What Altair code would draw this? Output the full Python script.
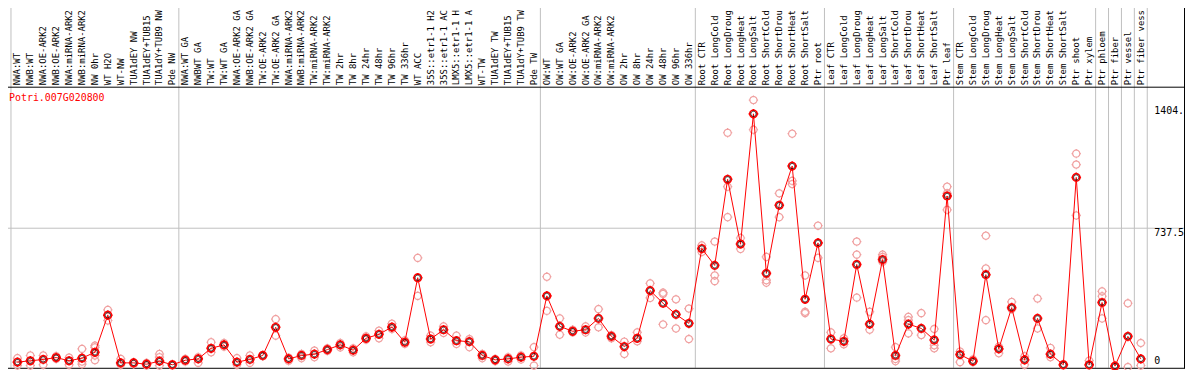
import math
import altair as alt
import pandas as pd

GENE = "Potri.007G020800"

LABELS = [
    "NWA:WT", "NWB:WT", "NWA:OE-ARK2", "NWB:OE-ARK2", "NWA:miRNA-ARK2", "NWB:miRNA-ARK2",
    "NW 0hr", "WT H2O", "WT-NW", "TUA1dEY NW", "TUA1dEY+TUB15", "TUA1dY+TUB9 NW", "Pde NW",
    "NWA:WT GA", "NWBWT GA", "TW:WT", "TW:WT GA", "NWA:OE-ARK2 GA", "NWB:OE-ARK2 GA",
    "TW:OE-ARK2", "TW:OE-ARK2 GA", "NWA:miRNA-ARK2", "NWB:miRNA-ARK2", "TW:miRNA-ARK2",
    "TW:miRNA-ARK2", "TW 2hr", "TW 8hr", "TW 24hr", "TW 48hr", "TW 96hr", "TW 336hr",
    "WT ACC", "35S::etr1-1 H2", "35S::etr1-1 AC", "LMX5::etr1-1 H", "LMX5::etr1-1 A",
    "WT-TW", "TUA1dEY TW", "TUA1dEY+TUB15", "TUA1dY+TUB9 TW", "Pde TW",
    "OW:WT", "OW:WT GA", "OW:OE-ARK2", "OW:OE-ARK2 GA", "OW:miRNA-ARK2", "OW:miRNA-ARK2",
    "OW 2hr", "OW 8hr", "OW 24hr", "OW 48hr", "OW 96hr", "OW 336hr",
    "Root CTR", "Root LongCold", "Root LongDroug", "Root LongHeat", "Root LongSalt",
    "Root ShortCold", "Root ShortDrou", "Root ShortHeat", "Root ShortSalt", "Ptr root",
    "Leaf CTR", "Leaf LongCold", "Leaf LongDroug", "Leaf LongHeat", "Leaf LongSalt",
    "Leaf ShortCold", "Leaf ShortDrou", "Leaf ShortHeat", "Leaf ShortSalt", "Ptr leaf",
    "Stem CTR", "Stem LongCold", "Stem LongDroug", "Stem LongHeat", "Stem LongSalt",
    "Stem ShortCold", "Stem ShortDrou", "Stem ShortHeat", "Stem ShortSalt", "Ptr shoot",
    "Ptr xylem", "Ptr phloem", "Ptr fiber", "Ptr vessel", "Ptr fiber vess",
]

MEANS = [
    30, 37, 44, 54, 37, 51, 82, 278, 26, 26, 19, 35, 16,
    40, 47, 103, 121, 30, 44, 65, 214, 47, 65, 72, 96, 121, 93, 156, 177, 215,
    135, 476, 152, 201, 143, 138, 65, 42, 47, 56, 61,
    380, 219, 193, 201, 261, 166, 112, 156, 408, 341, 282, 235,
    630, 541, 996, 654, 1342, 499, 859, 1066, 362, 660,
    152, 140, 546, 231, 572, 65, 231, 208, 147, 908,
    70, 35, 492, 100, 318, 42, 261, 72, 16, 1006,
    16, 345, 9, 166, 47,
]

REPS = [
    [51, 12], [65, 12], [65, 16], [61, 47], [54, 16], [100, 19, 33], [117, 65, 40, 108],
    [306, 250], [47, 16], [30, 19], [26, 12], [73, 56, 12], [19, 12],
    [47, 33], [56, 26], [135, 82], [131, 112], [51, 16], [65, 26], [68, 61], [257, 170],
    [54, 37], [73, 51], [91, 56], [103, 89], [131, 108], [103, 82], [166, 149], [196, 156],
    [233, 205], [145, 126], [581, 380], [170, 135], [219, 184], [170, 126], [152, 109],
    [73, 51], [47, 35], [56, 33], [65, 44], [109, 12],
    [481, 301], [261, 175], [201, 187], [219, 187], [310, 214], [173, 156], [138, 73],
    [187, 140], [446, 369], [397, 390, 229], [362, 208], [313, 152],
    [647, 612], [667, 488, 458], [1242, 957, 796], [686, 628], [1415, 1258],
    [586, 463, 450], [922, 796], [1237, 988, 971], [488, 296, 289], [751, 581],
    [187, 103], [156, 124], [667, 598, 371], [296, 201], [598, 586, 560], [109, 47, 35],
    [269, 252, 182], [289, 173], [205, 119, 103], [957, 922, 835],
    [86, 30], [44, 30], [698, 525, 252], [112, 77], [348, 310], [61, 16], [366, 208],
    [105, 56], [19, 12], [1132, 1074, 805],
    [38, 12], [404, 378, 261], [12, 2], [341, 4], [131, 12],
]

GROUP_STARTS = [0, 13, 41, 53, 63, 73, 84, 85, 86, 87, 88]
TICK_VALUES = [1404, 737.5, 0]
TICK_TEXT = ["1404.", "737.5", "0"]
GRID_VALUES = [737.5]

W, H = 1194, 370
MONO = "DejaVu Sans Mono"


def ring_path(r, stub):
    pts = [(r * math.cos(2 * math.pi * k / 24), r * math.sin(2 * math.pi * k / 24)) for k in range(24)]
    p = "M" + "L".join(f"{x:.3f},{y:.3f}" for x, y in pts) + "Z"
    if stub:
        p += (f"M0,{-r}L0,{-stub}M0,{r}L0,{stub}"
              f"M{-r},0L{-stub},0M{r},0L{stub},0")
    return p


SHAPE = ring_path(1, 1.3)
INNER = ring_path(0.7, 0)

df = pd.DataFrame({"i": list(range(len(LABELS))), "label": LABELS, "mean": MEANS})
reps_df = pd.DataFrame([{"i": i, "v": v} for i, r in enumerate(REPS) for v in r])
grid_df = pd.DataFrame({"start": GROUP_STARTS})
hgrid_df = pd.DataFrame({"v": GRID_VALUES})
ticks_df = pd.DataFrame({"v": TICK_VALUES, "t": TICK_TEXT})
title_df = pd.DataFrame({"t": [GENE]})

xs = alt.Scale(domain=[-17.5 / 13, (W - 17.5) / 13], nice=False, zero=False)
ys = alt.Scale(domain=[-5.249, 1936.9], nice=False, zero=False)
X = lambda f: alt.X(f, type="quantitative", scale=xs, axis=None)
Y = lambda f: alt.Y(f, type="quantitative", scale=ys, axis=None)

vgrid = alt.Chart(grid_df).transform_calculate(b="datum.start - 0.5").mark_rule(
    color="#c0c0c0", strokeWidth=1
).encode(x=X("b"), y=alt.value(0), y2=alt.value(369))

hgrid = alt.Chart(hgrid_df).mark_rule(color="#c0c0c0", strokeWidth=1).encode(
    y=Y("v"), x=alt.value(0), x2=alt.value(1192.5)
)

header_line = alt.Chart(title_df).mark_rule(color="black", strokeWidth=1).encode(
    y=alt.value(86.5), x=alt.value(0), x2=alt.value(1192.5)
)
bottom_line = alt.Chart(title_df).mark_rule(color="black", strokeWidth=1).encode(
    y=alt.value(369.5), x=alt.value(0), x2=alt.value(1192.5)
)
right_line = alt.Chart(title_df).mark_rule(color="black", strokeWidth=1).encode(
    x=alt.value(1192.5), y=alt.value(0), y2=alt.value(370)
)
left_line = alt.Chart(title_df).mark_rule(color="black", strokeWidth=1).encode(
    x=alt.value(1.5), y=alt.value(0), y2=alt.value(370)
)

labels = alt.Chart(df).mark_text(
    angle=270, align="left", baseline="middle", font=MONO, fontSize=9, color="black"
).encode(x=X("i"), y=alt.value(84.5), text="label:N")

title = alt.Chart(title_df).mark_text(
    align="left", baseline="alphabetic", font=MONO, fontSize=10, color="#ff0000"
).encode(x=alt.value(9), y=alt.value(100), text="t:N")

tick_layers = []
for val, txt, dy in zip(TICK_VALUES, TICK_TEXT, [11.5, 8, -4]):
    tick_layers.append(
        alt.Chart(ticks_df).transform_filter(alt.datum.t == txt).mark_text(
            align="left", baseline="alphabetic", font=MONO, fontSize=10, color="black", dy=dy
        ).encode(x=alt.value(1162), y=Y("v"), text="t:N")
    )

rep_pts = alt.Chart(reps_df).mark_point(
    shape=SHAPE, filled=False, size=52, color="#f0a0a0", strokeWidth=1.2, opacity=1
).encode(x=X("i"), y=Y("v"))

mean_line = alt.Chart(df).mark_line(color="#ff0000", strokeWidth=1).encode(
    x=X("i"), y=Y("mean")
)

mean_pts = alt.Chart(df).mark_point(
    shape=SHAPE, filled=False, size=56, color="#ff0000", strokeWidth=1.6, opacity=1
).encode(x=X("i"), y=Y("mean"))

mean_inner = alt.Chart(df).mark_point(
    shape=INNER, filled=False, size=56, color="#000000", strokeWidth=0.8, opacity=1
).encode(x=X("i"), y=Y("mean"))

chart = alt.layer(
    vgrid, hgrid, header_line, bottom_line, right_line, left_line,
    labels, title, *tick_layers, rep_pts, mean_line, mean_pts, mean_inner,
).properties(
    width=W, height=H,
    padding={"left": -8, "top": -8, "right": 0, "bottom": 0},
    autosize=alt.AutoSizeParams(type="none"),
).configure_view(strokeWidth=0)

chart.save("out.html", embed_options={"renderer": "svg", "actions": False})
